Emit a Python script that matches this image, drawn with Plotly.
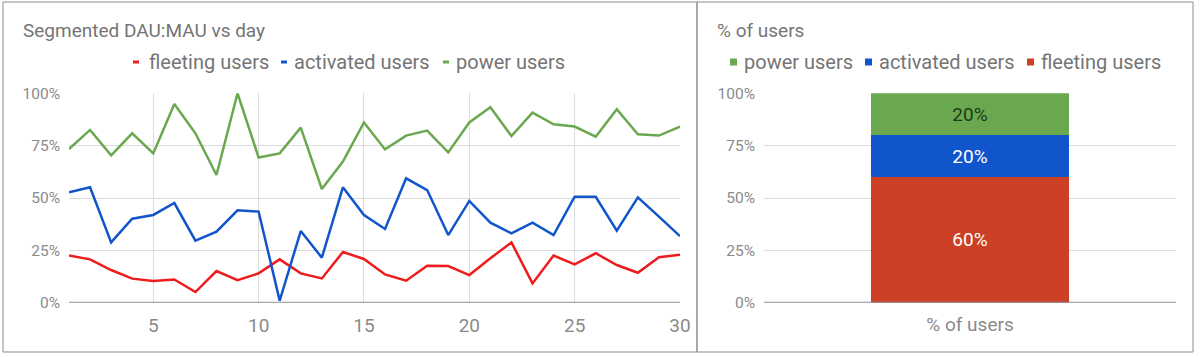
import plotly.graph_objects as go

W, H = 1200, 357

days = list(range(1, 31))
fleeting = [22.6, 20.7, 15.6, 11.5, 10.4, 11.1, 5.1, 15.1, 10.8, 14.0,
            20.7, 14.0, 11.6, 24.2, 20.9, 13.5, 10.5, 17.7, 17.5, 13.2,
            21.2, 28.8, 9.2, 22.5, 18.3, 23.6, 18.0, 14.3, 21.7, 22.9]
activated = [52.7, 55.1, 28.8, 40.1, 41.9, 47.6, 29.6, 33.9, 44.1, 43.5,
             1.0, 34.2, 21.5, 55.1, 41.9, 35.2, 59.4, 53.8, 32.3, 48.6,
             38.2, 33.1, 38.2, 32.3, 50.6, 50.6, 34.4, 50.3, 41.1, 31.8]
power = [73.4, 82.5, 70.4, 80.9, 71.3, 94.9, 80.9, 61.0, 100.0, 69.3,
         71.3, 83.6, 54.3, 67.4, 86.1, 73.2, 79.8, 82.2, 71.8, 86.1,
         93.3, 79.6, 90.8, 85.2, 84.1, 79.3, 92.4, 80.4, 79.8, 84.1]

seg_names = ["fleeting users", "activated users", "power users"]
line_colors = ["#ee1c1c", "#1155cc", "#6aa84f"]
bar_colors = ["#cc4125", "#1155cc", "#6aa84f"]
bar_category = ["% of users"]
share = [60, 20, 20]
share_labels = ["60%", "20%", "20%"]
share_text_colors = ["#ffffff", "#ffffff", "#1f3a14"]

yticks = [0, 25, 50, 75, 100]
ytick_text = ["0%", "25%", "50%", "75%", "100%"]
xticks = [5, 10, 15, 20, 25, 30]

FONT = "Roboto"
GRAY = "#757575"
TICK = "#8a8a8a"

def px_x(v):
    return v / W

def px_y(v):
    return 1 - v / H

fig = go.Figure()

for name, vals, col in zip(seg_names, [fleeting, activated, power], line_colors):
    fig.add_trace(go.Scatter(x=days, y=vals, mode="lines", name=name,
                             line=dict(color=col, width=2.5),
                             xaxis="x", yaxis="y", showlegend=False))

for name, v, col, lab, tc in zip(seg_names, share, bar_colors, share_labels, share_text_colors):
    fig.add_trace(go.Bar(x=bar_category, y=[v], name=name, marker=dict(color=col, line=dict(width=0)),
                         text=[lab], textposition="inside", insidetextanchor="middle",
                         textfont=dict(color=tc, size=19, family=FONT),
                         width=0.48, xaxis="x2", yaxis="y2", showlegend=False))

ydom = [px_y(302.7), px_y(93.3)]

fig.update_layout(
    width=W, height=H, autosize=False, showlegend=False,
    margin=dict(l=0, r=0, t=0, b=0, pad=0, autoexpand=False),
    paper_bgcolor="white", plot_bgcolor="white",
    font=dict(family=FONT, color=GRAY),
    barmode="stack",
    xaxis=dict(domain=[px_x(69), px_x(680)], range=[1, 30], tickvals=xticks, automargin=False,
               showgrid=True, gridcolor="#dcdcdc", gridwidth=1, zeroline=False,
               showline=False, ticks="", tickfont=dict(size=19, color=TICK, family=FONT),
               ticklabelstandoff=9),
    yaxis=dict(domain=ydom, range=[0, 100], tickvals=yticks, ticktext=ytick_text, automargin=False,
               showgrid=True, gridcolor="#dcdcdc", zeroline=False,
               showline=False, ticks="", tickfont=dict(size=15.5, color=TICK, family=FONT),
               ticklabelstandoff=8),
    xaxis2=dict(domain=[px_x(764), px_x(1176)], range=[-0.5, 0.5], anchor="y2", automargin=False,
                showgrid=False, zeroline=False, showline=False, ticks="",
                tickfont=dict(size=19, color=TICK, family=FONT), ticklabelstandoff=8),
    yaxis2=dict(domain=ydom, range=[0, 100], anchor="x2", tickvals=yticks, ticktext=ytick_text,
                automargin=False,
                showgrid=True, gridcolor="#dcdcdc", zeroline=False, showline=False, ticks="",
                tickfont=dict(size=15.5, color=TICK, family=FONT), ticklabelstandoff=8),
)

shapes = []
shapes.append(dict(type="line", xref="x domain", yref="y", x0=0, x1=1, y0=0, y1=0,
                   line=dict(color="#8f8f8f", width=2)))
shapes.append(dict(type="line", xref="x2 domain", yref="y2", x0=0, x1=1, y0=0, y1=0,
                   line=dict(color="#8f8f8f", width=2)))
shapes.append(dict(type="rect", xref="paper", yref="paper", x0=px_x(3), x1=px_x(697),
                   y0=px_y(352), y1=px_y(2), line=dict(color="#8c8c8c", width=1)))
shapes.append(dict(type="rect", xref="paper", yref="paper", x0=px_x(697), x1=px_x(1193),
                   y0=px_y(352), y1=px_y(2), line=dict(color="#8c8c8c", width=1)))

ann = []
ann.append(dict(text="Segmented DAU:MAU vs day", x=px_x(21), y=px_y(30.5), xref="paper", yref="paper",
                xanchor="left", yanchor="middle", showarrow=False,
                font=dict(size=19, color=GRAY, family=FONT)))
ann.append(dict(text="% of users", x=px_x(715), y=px_y(30.5), xref="paper", yref="paper",
                xanchor="left", yanchor="middle", showarrow=False,
                font=dict(size=19, color=GRAY, family=FONT)))

leg_left = [(133, 147), (281, 292), (443, 454)]
for (mx, tx), name, col in zip(leg_left, seg_names, line_colors):
    shapes.append(dict(type="line", xref="paper", yref="paper", x0=px_x(mx), x1=px_x(mx + 6),
                       y0=px_y(62), y1=px_y(62), line=dict(color=col, width=3)))
    ann.append(dict(text=name, x=px_x(tx), y=px_y(62), xref="paper", yref="paper",
                    xanchor="left", yanchor="middle", showarrow=False,
                    font=dict(size=20, color=GRAY, family=FONT)))

leg_right = [(730, 742), (865, 877), (1027, 1039)]
for (mx, tx), idx in zip(leg_right, [2, 1, 0]):
    shapes.append(dict(type="rect", xref="paper", yref="paper", x0=px_x(mx), x1=px_x(mx + 7),
                       y0=px_y(65.5), y1=px_y(58.5), fillcolor=bar_colors[idx], line=dict(width=0)))
    ann.append(dict(text=seg_names[idx], x=px_x(tx), y=px_y(62), xref="paper", yref="paper",
                    xanchor="left", yanchor="middle", showarrow=False,
                    font=dict(size=20, color=GRAY, family=FONT)))

fig.update_layout(shapes=shapes, annotations=ann)

fix_page = (
    "document.documentElement.style.margin='0';"
    "document.documentElement.style.overflow='hidden';"
    "document.body.style.margin='0';"
    "document.body.style.overflow='hidden';"
)
fig.write_html("out.html", config={"displayModeBar": False}, post_script=fix_page)
